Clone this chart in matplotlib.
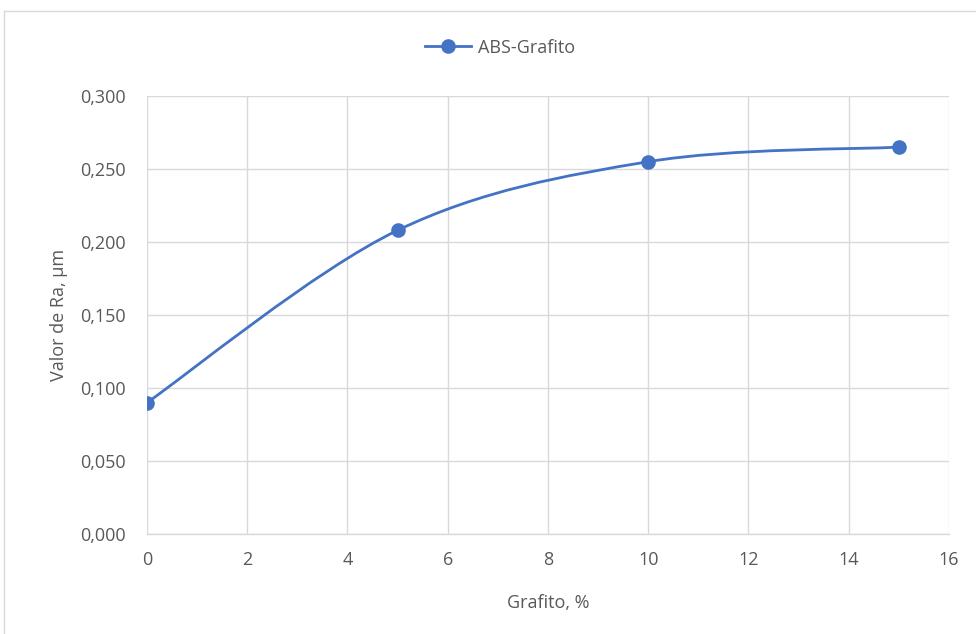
import matplotlib.pyplot as plt
from matplotlib.path import Path
from matplotlib.patches import PathPatch
from matplotlib.lines import Line2D
from matplotlib.ticker import FuncFormatter
import numpy as np

# data
grafito = [0, 5, 10, 15]
ra = [0.090, 0.208, 0.255, 0.265]
serie = "ABS-Grafito"

azul = "#4472C4"
gris_txt = "#595959"
gris_grid = "#D9D9D9"

plt.rcParams['font.family'] = ['Open Sans', 'DejaVu Sans']


def smooth_path(xs, ys):
    """Bezier path through the points, like Excel's smoothed line."""
    pts = np.column_stack([xs, ys]).astype(float)
    n = len(pts)
    verts = [pts[0]]
    codes = [Path.MOVETO]
    for i in range(n - 1):
        p0 = pts[i - 1] if i > 0 else pts[i]
        p1 = pts[i]
        p2 = pts[i + 1]
        p3 = pts[i + 2] if i + 2 < n else pts[i + 1]
        c1 = p1 + (p2 - p0) / 6
        c2 = p2 - (p3 - p1) / 6
        verts += [c1, c2, p2]
        codes += [Path.CURVE4] * 3
    return Path(verts, codes)


fig = plt.figure(figsize=(9.76, 6.34), dpi=100)
ax = fig.add_axes([0.1506, 0.1577, 0.8217, 0.6909])

ax.add_patch(PathPatch(smooth_path(grafito, ra), facecolor='none',
                       edgecolor=azul, lw=2.0, zorder=3))
ax.plot(grafito, ra, 'o', color=azul, markersize=9.5, zorder=4)

ax.set_xlim(0, 16)
ax.set_ylim(0, 0.3)
ax.set_xticks(np.arange(0, 17, 2))
ax.set_yticks(np.arange(0, 0.31, 0.05))
ax.yaxis.set_major_formatter(FuncFormatter(lambda v, p: f"{v:.3f}".replace('.', ',')))
ax.grid(True, color=gris_grid, lw=1.0)
ax.set_axisbelow(True)
for s in ['top', 'right', 'left']:
    ax.spines[s].set_visible(False)
ax.spines['bottom'].set_color(gris_grid)
ax.spines['bottom'].set_linewidth(1.0)
ax.tick_params(length=0, labelsize=13, labelcolor=gris_txt, pad=12)
ax.tick_params(axis='y', pad=15)

ax.set_xlabel("Grafito, %", fontsize=13, color=gris_txt, labelpad=18)
ax.set_ylabel("Valor de Ra, µm", fontsize=13, color=gris_txt, labelpad=9)

handle = Line2D([], [], color=azul, lw=2.0, marker='o', markersize=9.5)
fig.legend([handle], [serie], loc='center', bbox_to_anchor=(0.512, 0.925),
           frameon=False, fontsize=13, labelcolor=gris_txt,
           handlelength=2.6, handletextpad=0.35)

# outer chart frame (top and left edges visible)
fig.add_artist(Line2D([4 / 976, 1], [1 - 11 / 634, 1 - 11 / 634],
                      transform=fig.transFigure, color=gris_grid, lw=1.0))
fig.add_artist(Line2D([4 / 976, 4 / 976], [0, 1 - 11 / 634],
                      transform=fig.transFigure, color=gris_grid, lw=1.0))

fig.savefig("out.png", dpi=100)
